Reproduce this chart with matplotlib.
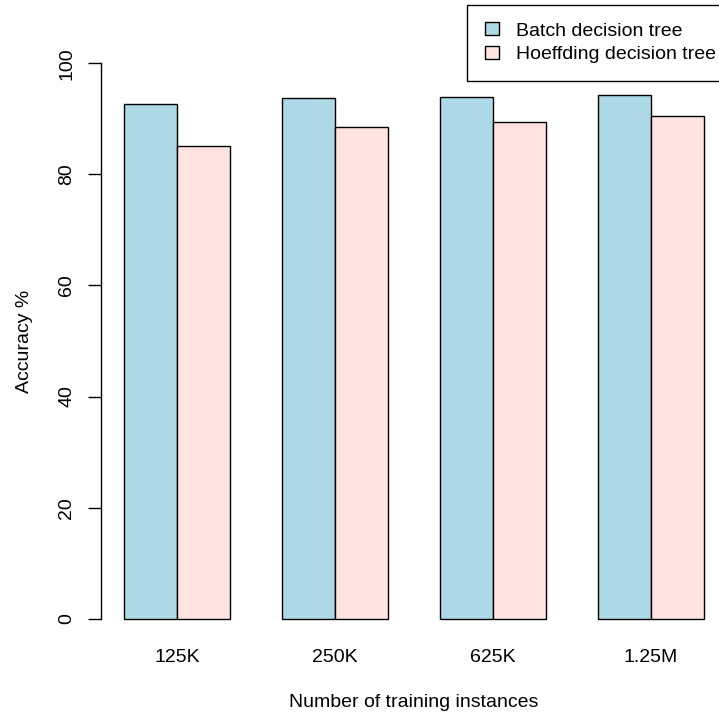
import matplotlib.pyplot as plt
import matplotlib as mpl
from matplotlib.patches import Patch

mpl.rcParams['font.family'] = ['Liberation Sans', 'DejaVu Sans']
mpl.rcParams['font.size'] = 14

# data
categories = ['125K', '250K', '625K', '1.25M']
batch = [92.6, 93.7, 94.0, 94.2]
hoeffding = [85.1, 88.5, 89.4, 90.5]
series_names = ['Batch decision tree', 'Hoeffding decision tree']
yticks = [0, 20, 40, 60, 80, 100]

W, H = 719, 715
fig = plt.figure(figsize=(W / 100, H / 100), dpi=100)
# R style plot region (runs past the right edge like the original)
ax = fig.add_axes([101 / W, 1 - 641 / H, 626 / W, 600 / H])

# barplot(beside=TRUE): bar width 1, one bar of space between groups
x_batch = [1 + 3 * i for i in range(len(categories))]
x_hoef = [2 + 3 * i for i in range(len(categories))]
ax.bar(x_batch, batch, width=1, align='edge', color='lightblue', edgecolor='black', linewidth=1)
ax.bar(x_hoef, hoeffding, width=1, align='edge', color='mistyrose', edgecolor='black', linewidth=1)

ax.set_xlim(0.56, 12.44)
ax.set_ylim(-4, 104)

for s in ['top', 'right', 'bottom']:
    ax.spines[s].set_visible(False)
ax.spines['left'].set_bounds(0, 100)
ax.spines['left'].set_linewidth(1)

ax.set_yticks(yticks)
ax.set_yticklabels([str(v) for v in yticks], rotation=90, va='center')
ax.tick_params(axis='y', length=9.5, width=1, pad=9)

ax.set_xticks([x + 1 for x in x_batch])
ax.set_xticklabels(categories)
ax.tick_params(axis='x', length=0, pad=6)

ax.set_xlabel('Number of training instances', labelpad=20)
ax.set_ylabel('Accuracy %', labelpad=18)

handles = [Patch(facecolor='lightblue', edgecolor='black', linewidth=1),
           Patch(facecolor='mistyrose', edgecolor='black', linewidth=1)]
leg = fig.legend(handles, series_names, loc='upper left',
                 bbox_to_anchor=(467 / W, 1 - 5 / H), frameon=True, fancybox=False,
                 edgecolor='black', framealpha=1, handlelength=0.75, handleheight=0.6,
                 handletextpad=0.85, borderpad=0.9, labelspacing=0.35, borderaxespad=0)
leg.get_frame().set_linewidth(1)

fig.savefig('out.png', dpi=100)
